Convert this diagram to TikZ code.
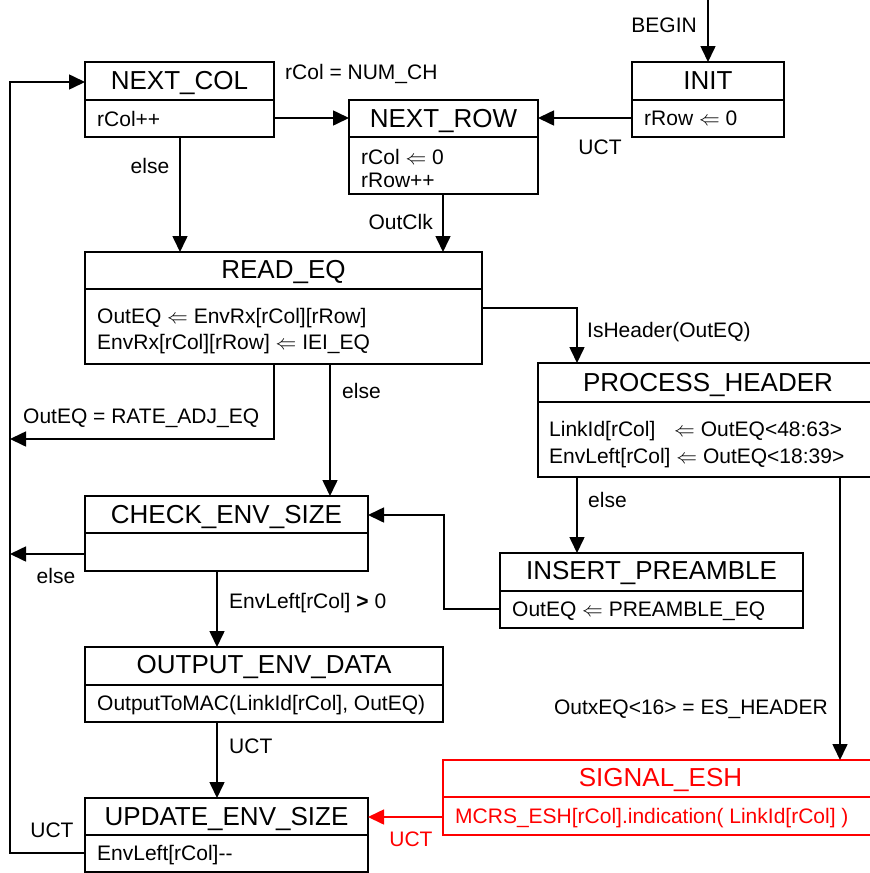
\documentclass[tikz,border=0pt]{standalone}
\usepackage{fontspec}
\setmainfont{Liberation Sans}
\usetikzlibrary{arrows.meta}
\definecolor{esred}{RGB}{255,0,0}
\begin{document}
\begin{tikzpicture}[x=1pt,y=-1pt,
 box/.style={draw, line width=1.6pt, inner sep=0pt, outer sep=0pt, anchor=north west},
 ttl/.style={font=\fontsize{26}{30}\selectfont, inner sep=0pt, anchor=base},
 bdy/.style={font=\fontsize{21}{25}\selectfont, inner sep=0pt, anchor=base west},
 lbl/.style={font=\fontsize{21}{25}\selectfont, inner sep=0pt},
 arr/.style={line width=1.6pt, -{Triangle[length=16pt,width=15pt]}},
 ln/.style={line width=1.6pt}]
\useasboundingbox (0,0) rectangle (870,873);
\clip (0,0) rectangle (870,873);

% ---------- boxes ----------
% NEXT_COL
\node[box, minimum width=189pt, minimum height=75pt] (nc) at (85,62) {};
\draw[ln] (85,100) -- (274,100);
\node[ttl] (nct) at (179.5,89) {NEXT\_COL};
\node[bdy] (ncb) at (97,126) {rCol++};
% NEXT_ROW
\node[box, minimum width=189pt, minimum height=94pt] (nr) at (349,100) {};
\draw[ln] (349,137) -- (538,137);
\node[ttl] (nrt) at (443.5,127) {NEXT\_ROW};
\node[bdy] (nrb1) at (361,164) {rCol $\Leftarrow$ 0};
\node[bdy] (nrb2) at (361,187) {rRow++};
% INIT
\node[box, minimum width=152pt, minimum height=75pt] (init) at (632,62) {};
\draw[ln] (632,100) -- (784,100);
\node[ttl] (initt) at (708,89) {INIT};
\node[bdy] (initb) at (644,125) {rRow $\Leftarrow$ 0};
% READ_EQ
\node[box, minimum width=397pt, minimum height=112pt] (re) at (85,252) {};
\draw[ln] (85,289) -- (482,289);
\node[ttl] (ret) at (283.5,278) {READ\_EQ};
\node[bdy] (reb1) at (97,323) {OutEQ $\Leftarrow$ EnvRx[rCol][rRow]};
\node[bdy] (reb2) at (97,349) {EnvRx[rCol][rRow] $\Leftarrow$ IEI\_EQ};
% PROCESS_HEADER
\node[box, minimum width=340pt, minimum height=114pt] (ph) at (538,363) {};
\draw[ln] (538,402) -- (878,402);
\node[ttl] (pht) at (708,391) {PROCESS\_HEADER};
\node[bdy] (phb1) at (549,436) {LinkId[rCol]\hspace{13pt} $\Leftarrow$ OutEQ<48:63>};
\node[bdy] (phb2) at (549,463) {EnvLeft[rCol] $\Leftarrow$ OutEQ<18:39>};
% CHECK_ENV_SIZE
\node[box, minimum width=283pt, minimum height=75pt] (ces) at (85,496) {};
\draw[ln] (85,533) -- (368,533);
\node[ttl] (cest) at (226.5,523) {CHECK\_ENV\_SIZE};
% INSERT_PREAMBLE
\node[box, minimum width=303pt, minimum height=75pt] (ip) at (500,553) {};
\draw[ln] (500,591) -- (803,591);
\node[ttl] (ipt) at (651.5,579) {INSERT\_PREAMBLE};
\node[bdy] (ipb) at (512,616) {OutEQ $\Leftarrow$ PREAMBLE\_EQ};
% OUTPUT_ENV_DATA
\node[box, minimum width=358pt, minimum height=75pt] (oed) at (85,647) {};
\draw[ln] (85,685) -- (443,685);
\node[ttl] (oedt) at (264,673) {OUTPUT\_ENV\_DATA};
\node[bdy] (oedb) at (97,710) {OutputToMAC(LinkId[rCol], OutEQ)};
% UPDATE_ENV_SIZE
\node[box, minimum width=283pt, minimum height=74pt] (ues) at (85,798) {};
\draw[ln] (85,835) -- (368,835);
\node[ttl] (uest) at (226.5,825) {UPDATE\_ENV\_SIZE};
\node[bdy] (uesb) at (97,860) {EnvLeft[rCol]\mbox{-}\mbox{-}};
% SIGNAL_ESH (red)
\node[box, draw=esred, minimum width=435pt, minimum height=75pt] (sesh) at (443,760) {};
\draw[ln, esred] (443,797) -- (878,797);
\node[ttl, text=esred] (sesht) at (660.5,786) {SIGNAL\_ESH};
\node[bdy, text=esred] (seshb) at (455,823) {MCRS\_ESH[rCol].indication( LinkId[rCol] )};

% ---------- connectors ----------
\coordinate (beginpt) at (708,0);
\draw[arr] (beginpt) -- (init.north);
\node[lbl, anchor=base east] (lbegin) at (697,32) {BEGIN};

\draw[arr] (init.west |- 0,118) -- (nr.east |- 0,118);
\node[lbl, anchor=base] (luct1) at (600,154) {UCT};

\draw[arr] (nc.east |- 0,118) -- (nr.west |- 0,118);
\node[lbl, anchor=base west] (lnum) at (285,79) {rCol = NUM\_CH};

\draw[arr] (nc.south -| 180,0) -- (re.north -| 180,0);
\node[lbl, anchor=base] (lelse1) at (150,173) {else};

\draw[arr] (nr.south -| 443,0) -- (re.north -| 443,0);
\node[lbl, anchor=base east] (loutclk) at (433,229) {OutClk};

\draw[arr] (re.east |- 0,308) -| (ph.north -| 577,0);
\node[lbl, anchor=base west] (lishdr) at (587,337) {IsHeader(OutEQ)};

\coordinate (lbus) at (10,439);
\draw[arr] (re.south -| 274,0) |- (lbus);
\node[lbl, anchor=base west] (lrate) at (23,423) {OutEQ = RATE\_ADJ\_EQ};

\draw[arr] (re.south -| 330,0) -- (ces.north -| 330,0);
\node[lbl, anchor=base west] (lelse2) at (342,398) {else};

\draw[arr] (ph.south -| 577,0) -- (ip.north -| 577,0);
\node[lbl, anchor=base west] (lelse3) at (588,507) {else};

\draw[arr] (ph.south -| 840,0) -- (sesh.north -| 840,0);
\node[lbl, anchor=base east] (lesh) at (828,714) {OutxEQ<16> = ES\_HEADER};

\coordinate (ipturn) at (444,609);
\draw[arr] (ip.west |- 0,609) -- (ipturn) |- (ces.east |- 0,515);

\coordinate (cbus) at (10,554);
\draw[arr] (ces.west |- 0,554) -- (cbus);
\node[lbl, anchor=base] (lelse4) at (56,583) {else};

\draw[arr] (ces.south -| 217,0) -- (oed.north -| 217,0);
\node[lbl, anchor=base west] (lenv) at (229,608) {EnvLeft[rCol] {\bfseries >} 0};

\draw[arr] (oed.south -| 217,0) -- (ues.north -| 217,0);
\node[lbl, anchor=base west] (luct2) at (229,753) {UCT};

\coordinate (ubot) at (10,853);
\draw[arr] (ues.west |- 0,853) -- (ubot) |- (nc.west |- 0,82);
\node[lbl, anchor=base] (luct3) at (52,837) {UCT};

\draw[arr, esred] (sesh.west |- 0,817) -- (ues.east |- 0,817);
\node[lbl, anchor=base, text=esred] (luct4) at (411,846) {UCT};
\end{tikzpicture}
\end{document}
